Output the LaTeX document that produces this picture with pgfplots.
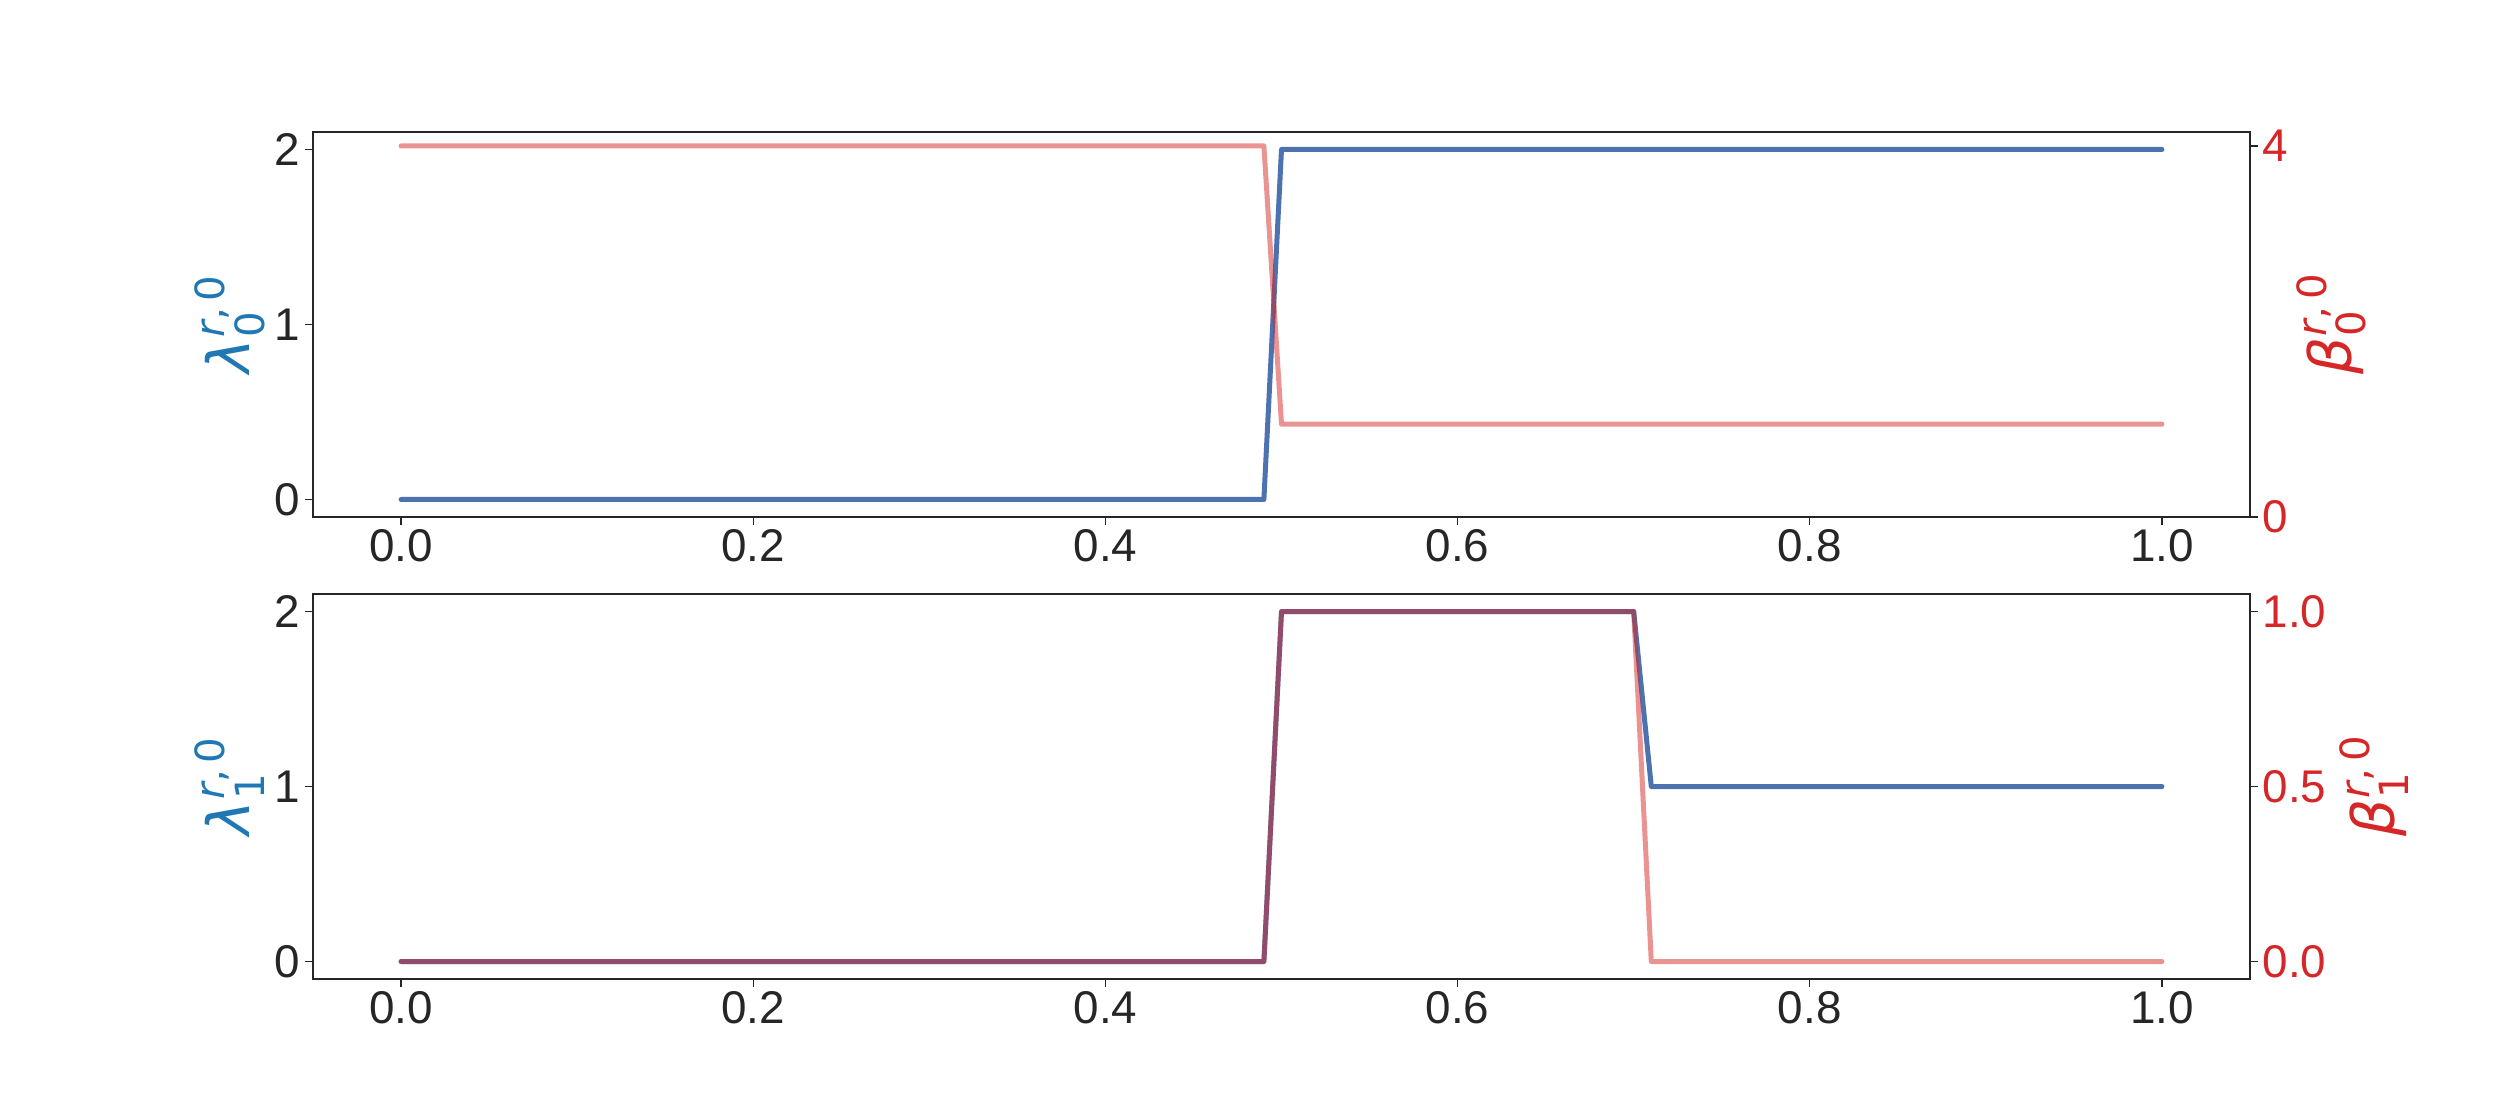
\documentclass[border=0pt]{standalone}
\usepackage{pgfplots}
\pgfplotsset{compat=1.18}
\usepackage{fontspec}
\setmainfont{Liberation Sans}
\newfontfamily\dejavu{DejaVu Sans}
\definecolor{lineblue}{RGB}{76,114,176}
\definecolor{tabred}{RGB}{214,39,40}
\definecolor{tabblue}{RGB}{31,119,180}
\definecolor{framegray}{RGB}{38,38,38}
\newcommand{\bigfont}{\fontsize{33}{40}\selectfont}
\newcommand{\supsub}[1]{\begingroup\fontsize{29}{30}\selectfont\dejavu\kern1pt\rlap{\raisebox{-10.5pt}{#1}}\raisebox{18pt}{\itshape r\upshape ,\kern5pt0}\endgroup}
\newcommand{\lam}[1]{{\fontsize{42}{50}\selectfont\dejavu\itshape λ}\supsub{#1}}
\newcommand{\bet}[1]{{\fontsize{42}{50}\selectfont\dejavu\itshape β}\supsub{#1}}
\pgfplotsset{
  base/.style={
    scale only axis,
    width=1394.64pt, height=277.2pt,
    anchor=south west,
    xmin=-0.05, xmax=1.05,
    axis line style={framegray, line width=1pt},
    every tick/.style={framegray, line width=1pt},
    major tick length=5.5pt,
    tick align=outside,
    /pgf/number format/assume math mode=true,
    tick label style={font=\bigfont, text=framegray},
    x tick label style={/pgf/number format/fixed, /pgf/number format/fixed zerofill, /pgf/number format/precision=1},
    xtick={0,0.2,0.4,0.6,0.8,1.0},
    minor tick num=0,
  },
  bluel/.style={lineblue, line width=3.6pt, line cap=round, line join=round},
  pinkl/.style={tabred, opacity=0.5, line width=3.6pt, line cap=round, line join=round},
}
\begin{document}
\begin{tikzpicture}
\path[use as bounding box] (0,0) rectangle (1800pt,792pt);
% ---- top panel
\begin{axis}[base, at={(225.36pt,419.76pt)},
  ymin=-0.1, ymax=2.1, ytick={0,1,2},
  xtick pos=lower, ytick pos=left,
  ylabel={\lam{0}}, ylabel style={at={(axis description cs:-0.043,0.5)}, anchor=center, text=tabblue},
]
\addplot[bluel] coordinates {(0,0) (0.49,0) (0.50,2) (1.0,2)};
\end{axis}
\begin{axis}[base, at={(225.36pt,419.76pt)},
  axis x line=none, axis y line*=right,
  ymin=0, ymax=4.15, ytick={0,4},
  y tick label style={text=tabred},
  ylabel={\bet{0}}, ylabel style={at={(axis description cs:1.042,0.5)}, anchor=center, text=tabred},
]
\addplot[pinkl] coordinates {(0,4) (0.49,4) (0.50,1) (1.0,1)};
\end{axis}
% ---- bottom panel
\begin{axis}[base, at={(225.36pt,87.1pt)},
  ymin=-0.1, ymax=2.1, ytick={0,1,2},
  xtick pos=lower, ytick pos=left,
  ylabel={\lam{1}}, ylabel style={at={(axis description cs:-0.043,0.5)}, anchor=center, text=tabblue},
]
\addplot[bluel] coordinates {(0,0) (0.49,0) (0.50,2) (0.70,2) (0.71,1) (1.0,1)};
\end{axis}
\begin{axis}[base, at={(225.36pt,87.1pt)},
  axis x line=none, axis y line*=right,
  ymin=-0.05, ymax=1.05, ytick={0,0.5,1},
  y tick label style={text=tabred, /pgf/number format/fixed, /pgf/number format/fixed zerofill, /pgf/number format/precision=1},
  ylabel={\bet{1}}, ylabel style={at={(axis description cs:1.064,0.5)}, anchor=center, text=tabred},
]
\addplot[pinkl] coordinates {(0,0) (0.49,0) (0.50,1) (0.70,1) (0.71,0) (1.0,0)};
\end{axis}
\end{tikzpicture}
\end{document}
